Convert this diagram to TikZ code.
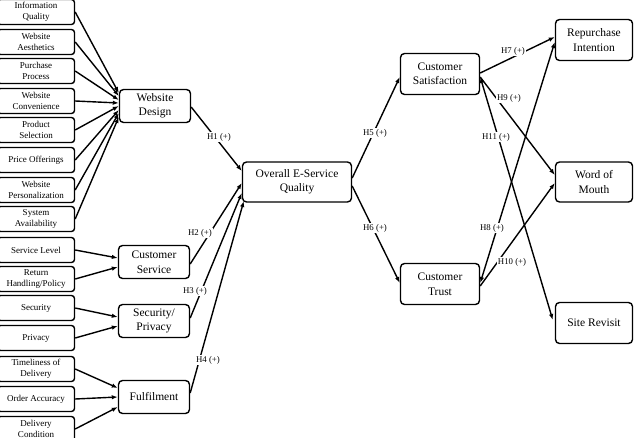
\documentclass[tikz,border=0pt]{standalone}
\usepackage{fontspec}
\setmainfont{Liberation Serif}
\usetikzlibrary{arrows.meta}
\usetikzlibrary{positioning}

\begin{document}
\begin{tikzpicture}[x=1pt, y=-1pt, line width=1.4pt,
  >={Latex[length=6pt, width=4.5pt]},
  item/.style={draw, rounded corners=3pt, minimum width=77pt, minimum height=25pt,
    align=center, inner sep=1pt, font=\fontsize{9}{10.5}\selectfont},
  factor/.style={draw, rounded corners=4pt, minimum width=71pt, minimum height=33pt,
    align=center, inner sep=1pt, font=\fontsize{11.5}{14.5}\selectfont},
  outcome/.style={factor, minimum width=79pt, minimum height=41pt},
  hyp/.style={fill=white, inner sep=1pt, font=\fontsize{8.8}{10}\selectfont},
]
  \useasboundingbox (0,0) rectangle (634,438);

  % items on the left
  \foreach \name/\txt/\yy in {iq/{Information\\Quality}/12, wa/{Website\\Aesthetics}/42,
      pp/{Purchase\\Process}/71, wc/{Website\\Convenience}/101, ps/{Product\\Selection}/130,
      po/{Price Offerings}/160, wp/{Website\\Personalization}/190, sa/{System\\Availability}/219,
      sl/{Service Level}/250, rh/{Return\\Handling/Policy}/279, sec/{Security}/308,
      pri/{Privacy}/338, td/{Timeliness of\\Delivery}/369, oa/{Order Accuracy}/399,
      dc/{Delivery\\Condition}/429} {
    \node [item] (\name) at (36, \yy) {\txt};
  }

  % dimensions
  \node [factor] (wd) at (155, 106) {Website\\Design};
  \node [factor] (cs) at (154, 262) {Customer\\Service};
  \node [factor] (sp) at (154, 321) {Security/\\Privacy};
  \node [factor] (ff) at (154, 397) {Fulfilment};

  \node [factor, minimum width=109pt, minimum height=40pt] (oq) at (297, 182) {Overall E-Service\\Quality};

  \node [outcome] (sat) at (440, 74) {Customer\\Satisfaction};
  \node [outcome] (trust) at (440, 284) {Customer\\Trust};
  \node [outcome, minimum width=77pt] (rep) at (594, 40) {Repurchase\\Intention};
  \node [outcome, minimum width=77pt, minimum height=40pt] (wom) at (594, 182) {Word of\\Mouth};
  \node [outcome, minimum width=77pt] (sr) at (594, 323) {Site Revisit};

  % items -> dimensions
  \foreach \name/\dy in {iq/13, wa/10, pp/6, wc/3, ps/0, po/-4, wp/-7, sa/-11} {
    \draw [->] (\name.east) -- ([yshift=\dy pt]wd.west);
  }
  \draw [->] (sl.east) -- ([yshift=4pt]cs.west);
  \draw [->] (rh.east) -- ([yshift=-5pt]cs.west);
  \draw [->] (sec.east) -- ([yshift=4pt]sp.west);
  \draw [->] (pri.east) -- ([yshift=-5pt]sp.west);
  \draw [->] (td.east) -- ([yshift=9pt]ff.west);
  \draw [->] (oa.east) -- (ff.west);
  \draw [->] (dc.east) -- ([yshift=-10pt]ff.west);

  % hypotheses
  \draw [->] ([yshift=-1pt]wd.east) -- ([yshift=11pt]oq.west);
  \draw [->] ([yshift=-2pt]cs.east) -- ([yshift=-1pt]oq.west);
  \draw [->] ([yshift=3pt]sp.east) -- ([yshift=-11pt]oq.west);
  \draw [->] ([yshift=4pt]ff.east) -- ([xshift=2pt, yshift=-19pt]oq.west);
  \draw [->] ([yshift=4pt]oq.east) -- ([yshift=-3pt]sat.west);
  \draw [->] ([yshift=-4pt]oq.east) -- ([yshift=1pt]trust.west);
  \draw [->] ([yshift=1pt]sat.east) -- ([yshift=3pt]rep.west);
  \draw [->] ([yshift=-3pt]sat.east) -- ([yshift=7pt]wom.west);
  \draw [<->] ([yshift=-3pt]sat.east) -- ([xshift=-2pt, yshift=3pt]sr.west);
  \draw [<->] ([yshift=1pt]trust.east) -- ([yshift=-2pt]rep.west);
  \draw [->] ([yshift=-2pt]trust.east) -- ([yshift=-1pt]wom.west);

  \node [hyp] (h1) at (219, 137) {H1 (+)};
  \node [hyp] (h2) at (200, 233) {H2 (+)};
  \node [hyp] (h3) at (195, 291) {H3 (+)};
  \node [hyp] (h4) at (208, 360) {H4 (+)};
  \node [hyp] (h5) at (375, 133) {H5 (+)};
  \node [hyp] (h6) at (375, 228) {H6 (+)};
  \node [hyp] (h7) at (513, 51) {H7 (+)};
  \node [hyp] (h8) at (492, 228) {H8 (+)};
  \node [hyp] (h9) at (509, 98) {H9 (+)};
  \node [hyp] (h10) at (512, 262) {H10 (+)};
  \node [hyp] (h11) at (496, 137) {H11 (+)};
\end{tikzpicture}
\end{document}
